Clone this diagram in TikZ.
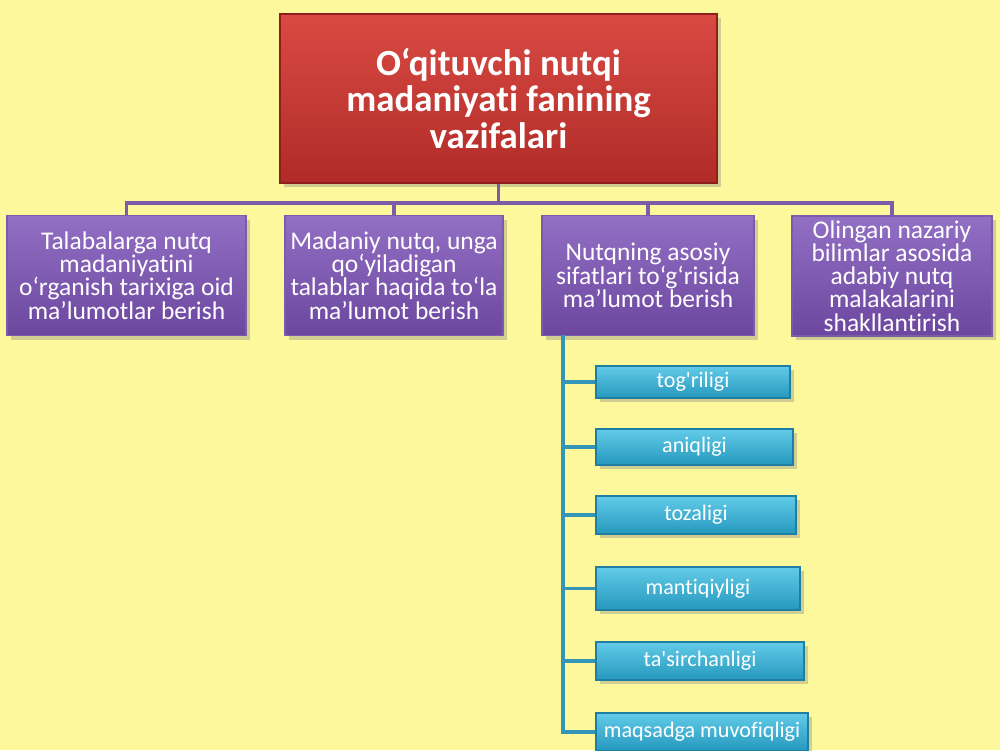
\documentclass[tikz,border=0pt]{standalone}
\usepackage{fontspec}
\setmainfont{Carlito}[Ligatures=NoCommon]
\usetikzlibrary{shadows}
\definecolor{slidebg}{HTML}{FDF89B}
\definecolor{redtop}{HTML}{DA4A44}
\definecolor{redbot}{HTML}{B02B27}
\definecolor{redline}{HTML}{8E1F1C}
\definecolor{purtop}{HTML}{9270C4}
\definecolor{purbot}{HTML}{6C469F}
\definecolor{purline}{HTML}{7A5CA8}
\definecolor{blutop}{HTML}{62CBE8}
\definecolor{blubot}{HTML}{2598BE}
\definecolor{bluline}{HTML}{1F7FA2}
\tikzset{
  boxshadow/.style={drop shadow={shadow xshift=2pt,shadow yshift=-2.5pt,opacity=.35}},
  titlebox/.style={draw=redline,line width=1pt,top color=redtop,bottom color=redbot,
    boxshadow,text=white,align=center,inner sep=2pt,
    minimum width=8.74cm,minimum height=3.38cm,
    font=\bfseries\fontsize{21}{21}\selectfont},
  taskbox/.style={draw=purline,line width=1pt,top color=purtop,bottom color=purbot,
    boxshadow,text=white,align=center,inner sep=1pt,minimum height=2.4cm,
    font=\fontsize{14.5}{13.2}\selectfont},
  propbox/.style={draw=bluline,line width=1pt,top color=blutop,bottom color=blubot,
    boxshadow,text=white,align=center,inner sep=1pt,
    font=\fontsize{12.6}{13}\selectfont},
  orgline/.style={purline,line width=2.2pt},
  subline/.style={bluline!70!blutop,line width=2.2pt},
}
\begin{document}
\begin{tikzpicture}
  % slide
  \fill[slidebg](0,0) rectangle (20,-15);
  \useasboundingbox (0,0) rectangle (20,-15);
  % title
  \node[titlebox] at(9.97,-1.97)(title){O‘qituvchi nutqi\\madaniyati fanining\\vazifalari};
  % tasks
  \node[taskbox,minimum width=4.78cm] at(2.53,-5.51)(task1){Talabalarga nutq\\madaniyatini\\o‘rganish tarixiga oid\\ma’lumotlar berish};
  \node[taskbox,minimum width=4.36cm] at(7.88,-5.51)(task2){Madaniy nutq, unga\\qo‘yiladigan\\talablar haqida to‘la\\ma’lumot berish};
  \node[taskbox,minimum width=4.24cm] at(12.96,-5.51)(task3){Nutqning asosiy\\sifatlari to‘g‘risida\\ma’lumot berish};
  \node[taskbox,minimum width=4.0cm,inner sep=0pt] at(17.84,-5.52)(task4){Olingan nazariy\\bilimlar asosida\\adabiy nutq\\malakalarini\\shakllantirish};
  % lines to tasks
  \coordinate (bus) at(9.97,-4.06);
  \draw [orgline](title.south) -- (bus);
  \draw [orgline](bus) -| (task1.north);
  \draw [orgline](bus) -| (task2.north);
  \draw [orgline](bus) -| (task3.north);
  \draw [orgline](bus) -| (task4.north);
  % properties
  \node[propbox,minimum width=3.88cm,minimum height=.64cm] at(13.86,-7.64)(prop1){tog\textquotesingle riligi};
  \node[propbox,minimum width=3.94cm,minimum height=.72cm] at(13.89,-8.94)(prop2){aniqligi};
  \node[propbox,minimum width=4.0cm,minimum height=.76cm] at(13.92,-10.3)(prop3){tozaligi};
  \node[propbox,minimum width=4.08cm,minimum height=.86cm] at(13.96,-11.77)(prop4){mantiqiyligi};
  \node[propbox,minimum width=4.16cm,minimum height=.76cm] at(14.0,-13.22)(prop5){ta\textquotesingle sirchanligi};
  \node[propbox,minimum width=4.24cm,minimum height=.76cm] at(14.04,-14.64)(prop6){maqsadga muvofiqligi};
  % lines to properties
  \coordinate (spine) at(11.26,-6.7);
  \draw [subline](spine) |- (prop1.west);
  \draw [subline](spine) |- (prop2.west);
  \draw [subline](spine) |- (prop3.west);
  \draw [subline](spine) |- (prop4.west);
  \draw [subline](spine) |- (prop5.west);
  \draw [subline](spine) |- (prop6.west);
\end{tikzpicture}
\end{document}
